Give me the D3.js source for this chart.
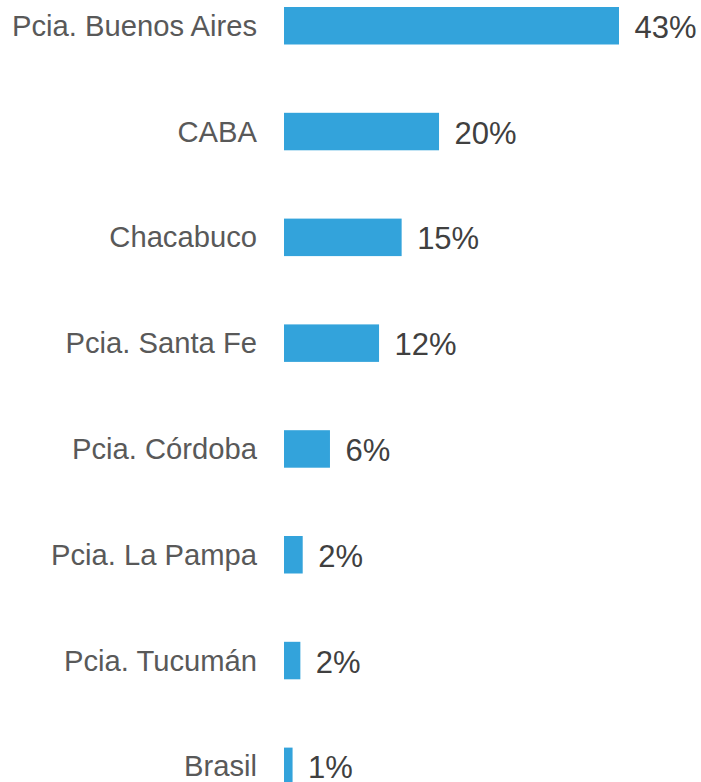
<!DOCTYPE html>
<html>
<head>
<meta charset="utf-8">
<script src="https://cdn.jsdelivr.net/npm/d3@7"></script>
<style>
  html, body { margin: 0; padding: 0; background: #ffffff; }
  svg { display: block; }
</style>
</head>
<body>
<svg id="chart" width="701" height="782"></svg>
<script>
const categories = ["Pcia. Buenos Aires", "CABA", "Chacabuco", "Pcia. Santa Fe", "Pcia. Córdoba", "Pcia. La Pampa", "Pcia. Tucumán", "Brasil"];
const values = [43, 19.9, 15.1, 12.2, 5.9, 2.4, 2.1, 1.1];
const valueLabels = ["43%", "20%", "15%", "12%", "6%", "2%", "2%", "1%"];

const svg = d3.select("#chart");
const font = "'Liberation Sans', Arial, Helvetica, sans-serif";

const x = d3.scaleLinear().domain([0, 43]).range([284, 619]);
const y = d3.scaleBand().domain(categories).range([7, 785.1]).paddingInner(0.6456).paddingOuter(0);

const data = categories.map((c, i) => ({ cat: c, value: values[i], label: valueLabels[i] }));

svg.selectAll("rect.bar").data(data).enter().append("rect")
  .attr("class", "bar")
  .attr("x", x(0))
  .attr("y", d => y(d.cat))
  .attr("width", d => x(d.value) - x(0))
  .attr("height", y.bandwidth())
  .attr("fill", "#33A3DB");

svg.selectAll("text.cat").data(data).enter().append("text")
  .attr("class", "cat")
  .attr("x", 257)
  .attr("y", d => y(d.cat) + y.bandwidth() / 2 + 10)
  .attr("text-anchor", "end")
  .attr("font-family", font)
  .attr("font-size", "29.2px")
  .attr("fill", "#595959")
  .text(d => d.cat);

svg.selectAll("text.val").data(data).enter().append("text")
  .attr("class", "val")
  .attr("x", d => x(d.value) + 15.5)
  .attr("y", d => y(d.cat) + y.bandwidth() / 2 + 12)
  .attr("text-anchor", "start")
  .attr("font-family", font)
  .attr("font-size", "31px")
  .attr("fill", "#404040")
  .text(d => d.label);
</script>
</body>
</html>
